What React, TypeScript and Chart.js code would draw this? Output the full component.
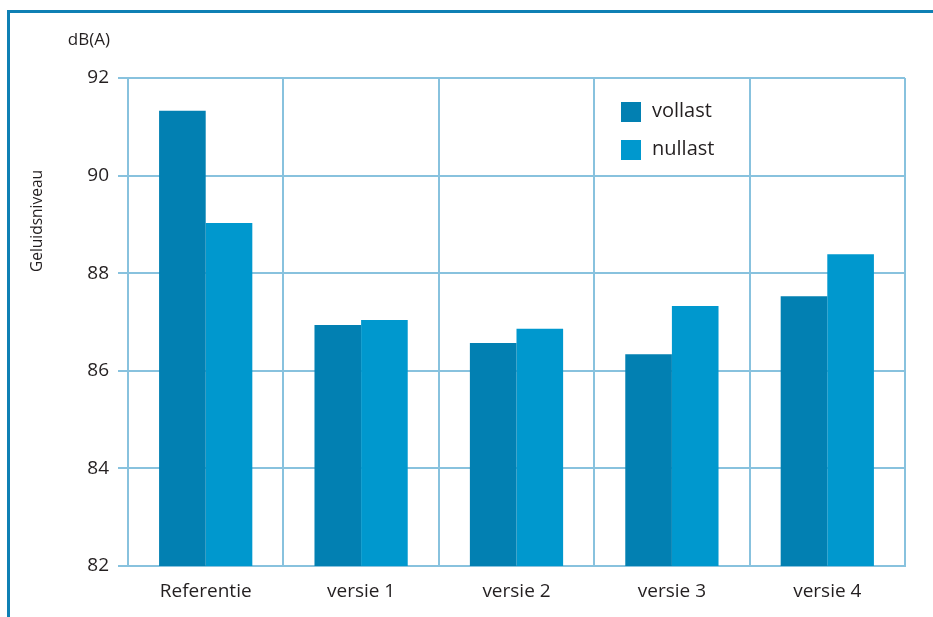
import React, { useEffect, useRef } from "react";
import { Chart, registerables } from "chart.js";

Chart.register(...registerables);

const categories = ["Referentie", "versie 1", "versie 2", "versie 3", "versie 4"];
const vollast = [91.33, 86.94, 86.57, 86.34, 87.53];
const nullast = [89.03, 87.04, 86.86, 87.33, 88.39];
const seriesNames = ["vollast", "nullast"];
const yTitle = "Geluidsniveau";
const yUnit = "dB(A)";

const DARK = "#0280b2";
const LIGHT = "#0098ce";
const GRID = "#88c2de";
const TEXT = "#231f20";
const FRAME = "#0e80b4";
const FONT = "'Open Sans', 'Noto Sans', sans-serif";

const decorPlugin = {
  id: "decor",
  beforeDraw(chart: any) {
    const ctx = chart.ctx;
    ctx.save();
    ctx.strokeStyle = FRAME;
    ctx.lineWidth = 3;
    ctx.beginPath();
    ctx.moveTo(933, 11.5);
    ctx.lineTo(8.5, 11.5);
    ctx.lineTo(8.5, 617);
    ctx.stroke();
    ctx.restore();
  },
  afterDraw(chart: any) {
    const ctx = chart.ctx;
    const area = chart.chartArea;
    ctx.save();
    ctx.fillStyle = TEXT;
    ctx.font = `17px ${FONT}`;
    ctx.textAlign = "right";
    ctx.textBaseline = "middle";
    ctx.fillText(yUnit, 110, 40);
    ctx.save();
    ctx.translate(38, 221);
    ctx.rotate(-Math.PI / 2);
    ctx.textAlign = "center";
    ctx.font = `15.5px ${FONT}`;
    ctx.fillText(yTitle, 0, 0);
    ctx.restore();
    const colors = [DARK, LIGHT];
    const lx = area.left + 493;
    seriesNames.forEach((name, i) => {
      const y = 102 + i * 38;
      ctx.fillStyle = colors[i];
      ctx.fillRect(lx, y, 20, 20);
      ctx.fillStyle = TEXT;
      ctx.font = `20px ${FONT}`;
      ctx.textAlign = "left";
      ctx.textBaseline = "middle";
      ctx.fillText(name, lx + 31, y + 9);
    });
    ctx.restore();
  },
};

export default function App() {
  const ref = useRef<HTMLCanvasElement | null>(null);
  useEffect(() => {
    document.body.style.margin = "0";
    if (!ref.current) return;
    const chart = new Chart(ref.current, {
      type: "bar",
      data: {
        labels: categories,
        datasets: [
          { label: seriesNames[0], data: vollast, backgroundColor: DARK, borderWidth: 0 },
          { label: seriesNames[1], data: nullast, backgroundColor: LIGHT, borderWidth: 0 },
        ],
      },
      options: {
        responsive: false,
        animation: false,
        devicePixelRatio: 1,
        layout: { padding: { left: 0, top: 78, right: 28, bottom: 0 } },
        datasets: { bar: { categoryPercentage: 0.6, barPercentage: 1 } },
        plugins: {
          legend: { display: false },
          tooltip: { enabled: false },
        },
        scales: {
          x: {
            grid: { offset: true, color: GRID, lineWidth: 2, drawTicks: false },
            border: { color: GRID, width: 2 },
            ticks: { color: TEXT, font: { family: FONT, size: 19 }, padding: 14 },
            afterFit(scale: any) {
              scale.height = 51;
            },
          },
          y: {
            min: 82,
            max: 92,
            ticks: { stepSize: 2, color: TEXT, font: { family: FONT, size: 19 }, padding: 9 },
            grid: { color: GRID, lineWidth: 2, tickLength: 10 },
            border: { color: GRID, width: 2 },
            afterFit(scale: any) {
              scale.width = 128;
            },
          },
        },
      },
      plugins: [decorPlugin],
    });
    return () => chart.destroy();
  }, []);
  return <canvas ref={ref} width={933} height={617} style={{ display: "block" }} />;
}
